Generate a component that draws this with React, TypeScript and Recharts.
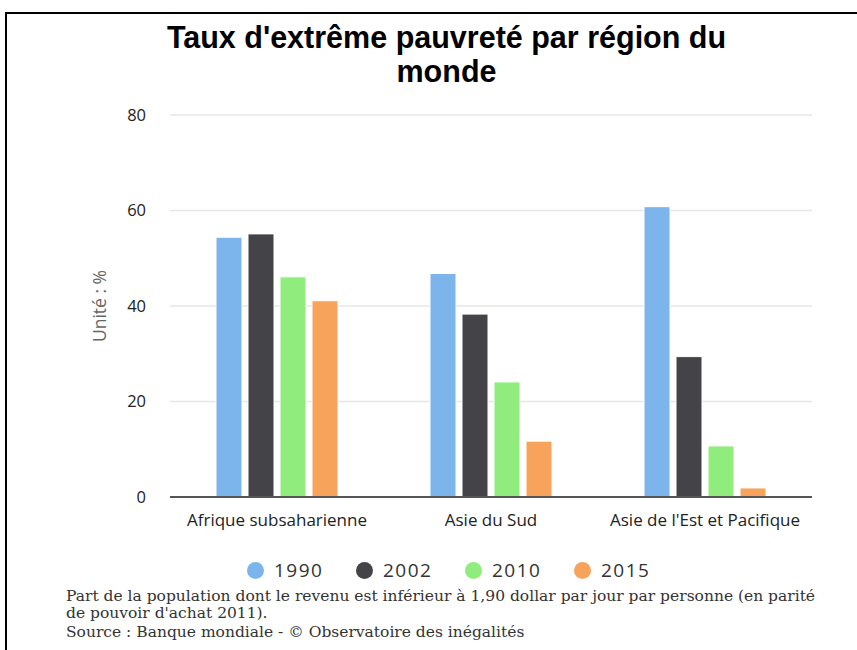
import React from 'react';
import { BarChart, Bar, XAxis, YAxis, CartesianGrid } from 'recharts';

const regions = ['Afrique subsaharienne', 'Asie du Sud', "Asie de l'Est et Pacifique"];
const years = ['1990', '2002', '2010', '2015'];
const v1990 = [54.4, 46.8, 60.8];
const v2002 = [55.1, 38.3, 29.4];
const v2010 = [46.1, 24.1, 10.7];
const v2015 = [41.1, 11.7, 1.9];
const yTicks = [0, 20, 40, 60, 80];
const colors = ['#7cb5ec', '#434348', '#90ed7d', '#f7a35c'];

const seriesValues = [v1990, v2002, v2010, v2015];
const data = regions.map((r, i) => {
  const row: Record<string, string | number> = { region: r };
  years.forEach((y, k) => {
    row[y] = seriesValues[k][i];
  });
  return row;
});

const sans = '"Open Sans", "DejaVu Sans", sans-serif';

export default function App() {
  return (
    <div style={{ position: 'absolute', left: 0, top: 0, width: 857, height: 650, background: '#fff', overflow: 'hidden' }}>
      <div style={{ position: 'absolute', left: 5, top: 12, width: 860, height: 650, borderTop: '2px solid #000', borderLeft: '2px solid #000', boxSizing: 'border-box' }} />
      <div style={{ position: 'absolute', left: 0, top: 20, width: 893, textAlign: 'center', fontFamily: '"Liberation Sans", Arial, sans-serif', fontWeight: 'bold', fontSize: 30.5, lineHeight: '34px', color: '#000' }}>
        Taux d'extrême pauvreté par région du<br />monde
      </div>
      <div style={{ position: 'absolute', left: 0, top: 0 }}>
        <BarChart
          width={857}
          height={650}
          data={data}
          margin={{ top: 115, right: 45, bottom: 123, left: 90 }}
          barSize={26}
          barGap={6}
        >
          <CartesianGrid vertical={false} stroke="#e6e6e6" strokeWidth={1.5} />
          <XAxis
            dataKey="region"
            height={30}
            tickLine={false}
            tickSize={0}
            tickMargin={17}
            axisLine={{ stroke: '#555', strokeWidth: 2 }}
            tick={{ fill: '#222', fontSize: 17, fontFamily: sans }}
            interval={0}
          />
          <YAxis
            width={80}
            domain={[0, 80]}
            ticks={yTicks}
            tickLine={false}
            axisLine={false}
            tickSize={0}
            tickMargin={24}
            tick={{ fill: '#222', fontSize: 16.5, fontFamily: sans }}
            label={{
              content: (props: any) => {
                const vb = props.viewBox || {};
                const cx = (vb.x || 0) + 9;
                const cy = (vb.y || 0) + (vb.height || 0) / 2;
                return (
                  <text x={cx} y={cy} transform={`rotate(-90, ${cx}, ${cy})`} textAnchor="middle" dominantBaseline="central" fill="#666" fontSize={17.5} fontFamily={sans}>
                    Unité : %
                  </text>
                );
              },
            }}
          />
          {years.map((y, k) => (
            <Bar key={y} dataKey={y} fill={colors[k]} stroke="#fff" strokeWidth={1} isAnimationActive={false} />
          ))}
        </BarChart>
      </div>
      <div style={{ position: 'absolute', left: 247, top: 557, display: 'flex', fontFamily: sans, fontSize: 19, color: '#333', letterSpacing: 1.5 }}>
        {years.map((y, k) => (
          <div key={y} style={{ width: 109, display: 'flex', alignItems: 'center', height: 26 }}>
            <span style={{ display: 'inline-block', width: 17, height: 17, borderRadius: '50%', background: colors[k], marginRight: 10 }} />
            <span>{y}</span>
          </div>
        ))}
      </div>
      <div style={{ position: 'absolute', left: 66, top: 588, width: 772, fontFamily: '"DejaVu Serif", serif', fontSize: 15.5, lineHeight: '17px', color: '#333' }}>
        Part de la population dont le revenu est inférieur à 1,90 dollar par jour par personne (en parité de pouvoir d'achat 2011).
        <div style={{ marginTop: 2 }}>Source : Banque mondiale - © Observatoire des inégalités</div>
      </div>
    </div>
  );
}
